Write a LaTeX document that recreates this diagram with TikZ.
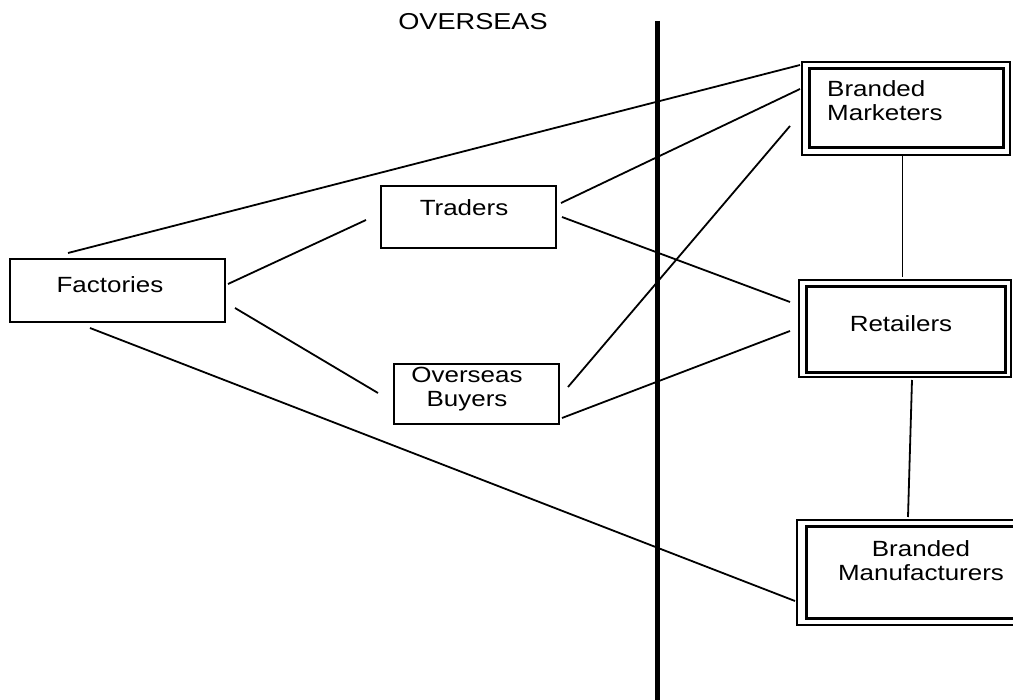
\documentclass[tikz,border=0pt]{standalone}
\usepackage{fontspec}
\setmainfont[FakeStretch=1.18]{Liberation Sans}
\begin{document}
\begin{tikzpicture}[x=1pt,y=-1pt,
  txt/.style={inner sep=0pt, anchor=base, font=\fontsize{22}{24}\selectfont, align=center},
  sbox/.style={draw, line width=2pt, rectangle, inner sep=0pt},
  obox/.style={draw, line width=2pt, rectangle, inner sep=0pt},
  ibox/.style={line width=3pt},
  conn/.style={line width=1.8pt},
  divider/.style={line width=5pt}]
\useasboundingbox (0,0) rectangle (1013,700);
\clip (0,0) rectangle (1013,700);
% boxes
\node[sbox, minimum width=215pt, minimum height=63pt] (fac) at (117.5,290.5) {};
\node[sbox, minimum width=175pt, minimum height=62pt] (tr) at (468.5,217) {};
\node[sbox, minimum width=165pt, minimum height=60pt] (ob) at (476.5,394) {};
\node[obox, minimum width=208pt, minimum height=93pt] (bm) at (906,108.5) {};
\node[obox, minimum width=212pt, minimum height=97pt] (ret) at (905,328.5) {};
\node[obox, minimum width=230pt, minimum height=105pt] (bmf) at (912,572.5) {};
\draw[ibox] ([shift={(8,8)}]bm.north west) rectangle ([shift={(-8,-8)}]bm.south east);
\draw[ibox] ([shift={(8,8)}]ret.north west) rectangle ([shift={(-7,-5)}]ret.south east);
\draw[ibox] ([shift={(10,8)}]bmf.north west) rectangle ([shift={(-10,-8)}]bmf.south east);
% texts
\node[txt] (tfac) at (110,293) {Factories};
\node[txt] (ttr) at (464,216) {Traders};
\node[txt] (tob) at (467,407) {Overseas\\Buyers};
\node[txt, align=left, anchor=base west] (tbm) at (827,121) {Branded\\Marketers};
\node[txt] (tret) at (901,332) {Retailers};
\node[txt] (tbmf) at (921,580) {Branded\\Manufacturers};
\node[txt, font=\fontsize{23}{24}\selectfont] (tov) at (473,30) {OVERSEAS};
% divider
\coordinate (dtop) at (657.5,21);
\coordinate (dbot) at (657.5,705);
\draw[divider] (dtop) -- (dbot);
% connectors
\draw[conn] ([shift={(-49.5,-37.5)}]fac.center) -- ([shift={(-106,-43.5)}]bm.center);
\draw[conn] ([shift={(110.5,-6.5)}]fac.center) -- ([shift={(-102.5,3)}]tr.center);
\draw[conn] ([shift={(117.5,17.5)}]fac.center) -- ([shift={(-98.5,-1)}]ob.center);
\draw[conn] ([shift={(-27.5,37.5)}]fac.center) -- ([shift={(-117,28.5)}]bmf.center);
\draw[conn] ([shift={(92.5,-14)}]tr.center) -- ([shift={(-106,-19.5)}]bm.center);
\draw[conn] ([shift={(93.5,0)}]tr.center) -- ([shift={(-115,-26.5)}]ret.center);
\draw[conn] ([shift={(91.5,-7)}]ob.center) -- ([shift={(-116,17.5)}]bm.center);
\draw[conn] ([shift={(85.5,24)}]ob.center) -- ([shift={(-115,2.5)}]ret.center);
\draw[conn] ([shift={(-3.5,47.5)}]bm.center) -- ([shift={(-2.5,-51.5)}]ret.center);
\draw[conn] ([shift={(7,51.5)}]ret.center) -- ([shift={(-4,-55.5)}]bmf.center);
\end{tikzpicture}
\end{document}
